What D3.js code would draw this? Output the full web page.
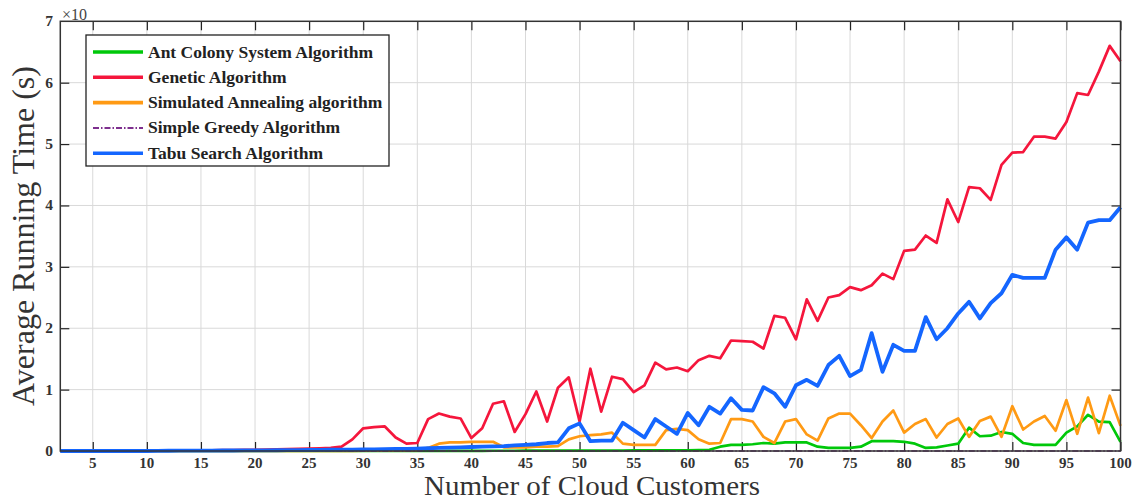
<!DOCTYPE html>
<html>
<head>
<meta charset="utf-8">
<script src="https://cdn.jsdelivr.net/npm/d3@7"></script>
<style>
  html, body { margin: 0; padding: 0; background: #fff; }
  svg { display: block; }
</style>
</head>
<body>
<svg id="chart" width="1134" height="501"></svg>
<script>
// Number of cloud customers on the x axis
const customers = d3.range(2, 101);

// Average running time per algorithm (in units of the axis multiplier)
const antColony = [
  0,0,0,0,0,0,0,0,0,0,
  0,0,0,0,0,0,0,0,0,0,
  0,0,0,0,0,0,0,0,0,0,
  0,0,0,0,0,0,0.003,0.003,0.003,0.003,
  0.004,0.004,0.004,0.005,0.005,0.005,0.006,0.006,0.006,0.007,
  0.007,0.008,0.008,0.009,0.01,0.01,0.01,0.012,0.012,0.015,
  0.02,0.07,0.10,0.10,0.11,0.13,0.12,0.14,0.14,0.14,
  0.07,0.05,0.05,0.05,0.07,0.16,0.16,0.16,0.15,0.12,
  0.05,0.06,0.09,0.12,0.38,0.24,0.25,0.31,0.28,0.13,
  0.10,0.10,0.10,0.30,0.40,0.59,0.48,0.47,0.15
];
const genetic = [
  0,0,0,0,0,0,0,0,0.005,0.005,
  0.005,0.008,0.01,0.01,0.012,0.015,0.015,0.018,0.02,0.022,
  0.025,0.03,0.035,0.04,0.045,0.05,0.07,0.19,0.37,0.39,
  0.40,0.22,0.12,0.13,0.52,0.61,0.56,0.53,0.21,0.37,
  0.77,0.81,0.31,0.60,0.97,0.48,1.03,1.20,0.48,1.34,
  0.64,1.21,1.17,0.96,1.07,1.44,1.33,1.36,1.30,1.48,
  1.55,1.51,1.80,1.79,1.78,1.67,2.20,2.17,1.82,2.47,
  2.12,2.50,2.54,2.67,2.62,2.70,2.89,2.80,3.26,3.28,
  3.51,3.39,4.10,3.73,4.30,4.28,4.09,4.66,4.86,4.87,
  5.12,5.12,5.09,5.36,5.83,5.80,6.18,6.60,6.35
];
const annealing = [
  0,0,0,0,0,0,0,0,0,0,
  0,0,0,0,0,0,0,0,0,0,
  0,0,0,0,0,0,0,0,0.005,0.005,
  0.005,0.01,0.01,0.015,0.05,0.12,0.14,0.14,0.15,0.15,
  0.15,0.06,0.06,0.06,0.07,0.07,0.08,0.19,0.24,0.26,
  0.27,0.30,0.12,0.10,0.10,0.10,0.34,0.36,0.34,0.19,
  0.12,0.13,0.52,0.52,0.48,0.23,0.13,0.48,0.52,0.27,
  0.17,0.53,0.61,0.61,0.42,0.21,0.48,0.66,0.30,0.44,
  0.52,0.22,0.44,0.53,0.23,0.49,0.56,0.23,0.73,0.35,
  0.48,0.57,0.33,0.83,0.28,0.87,0.29,0.90,0.41
];
const greedy = [
  0,0,0,0,0,0,0,0,0,0,
  0,0,0,0,0,0,0,0,0,0,
  0,0,0,0,0,0,0,0,0,0,
  0,0,0,0,0,0,0,0,0,0,
  0,0,0,0,0,0,0,0,0,0,
  0,0,0,0,0,0,0,0,0,0,
  0,0,0,0,0,0,0,0,0,0,
  0,0,0,0,0,0,0,0,0,0,
  0,0,0,0,0,0,0,0,0,0,
  0,0,0,0,0,0,0,0,0
];
const tabu = [
  0,0,0,0,0,0,0,0,0,0.003,
  0.004,0.005,0.005,0.006,0.007,0.008,0.008,0.009,0.01,0.011,
  0.012,0.013,0.015,0.016,0.018,0.02,0.022,0.024,0.026,0.028,
  0.03,0.033,0.036,0.04,0.045,0.05,0.055,0.06,0.065,0.07,
  0.075,0.08,0.09,0.10,0.11,0.13,0.14,0.37,0.45,0.16,
  0.17,0.17,0.46,0.34,0.22,0.52,0.40,0.28,0.62,0.42,
  0.72,0.61,0.86,0.67,0.66,1.04,0.94,0.72,1.07,1.16,
  1.06,1.40,1.55,1.22,1.32,1.92,1.29,1.73,1.63,1.63,
  2.18,1.82,2.00,2.24,2.43,2.16,2.41,2.57,2.87,2.82,
  2.82,2.82,3.28,3.48,3.28,3.72,3.76,3.76,3.97
];

const seriesNames = [
  "Ant Colony System Algorithm",
  "Genetic Algorithm",
  "Simulated Annealing algorithm",
  "Simple Greedy Algorithm",
  "Tabu Search Algorithm"
];
const xTicks = [5,10,15,20,25,30,35,40,45,50,55,60,65,70,75,80,85,90,95,100];
const yTicks = [0,1,2,3,4,5,6,7];

const series = [
  { name: seriesNames[0], values: antColony, color: "#00c80a", width: 2.7, dash: null },
  { name: seriesNames[1], values: genetic,   color: "#f5163c", width: 2.7, dash: null },
  { name: seriesNames[2], values: annealing, color: "#ff9a14", width: 2.7, dash: null },
  { name: seriesNames[3], values: greedy,    color: "#7e2f8e", width: 1.6, dash: "6,2,1.5,2" },
  { name: seriesNames[4], values: tabu,      color: "#1466ff", width: 3.8, dash: null }
];

const svg = d3.select("#chart");
const plotLeft = 60.3, plotRight = 1120.5, plotTop = 21.3, plotBottom = 451;
const serif = "'Liberation Serif', 'Times New Roman', serif";

const x = d3.scaleLinear().domain([2, 100]).range([plotLeft, plotRight]);
const y = d3.scaleLinear().domain([0, 7]).range([plotBottom, plotTop]);

// grid
const grid = svg.append("g").attr("stroke", "#d9d9d9").attr("stroke-width", 1);
grid.selectAll("line.gx").data(xTicks.filter(t => t < 100)).join("line")
  .attr("x1", d => x(d)).attr("x2", d => x(d))
  .attr("y1", plotTop).attr("y2", plotBottom);
grid.selectAll("line.gy").data(yTicks.filter(t => t > 0 && t < 7)).join("line")
  .attr("x1", plotLeft).attr("x2", plotRight)
  .attr("y1", d => y(d)).attr("y2", d => y(d));

// axes with inward ticks on all four sides
const tickLen = 9;
const axisStyle = g => {
  g.select(".domain").remove();
  g.selectAll(".tick line").attr("stroke", "#222").attr("stroke-width", 1.2);
};
const innerY = yTicks.filter(t => t > 0 && t < 7);
svg.append("g").attr("transform", `translate(0,${plotBottom})`)
  .call(d3.axisBottom(x).tickValues(xTicks).tickSize(-tickLen).tickFormat(""))
  .call(axisStyle);
svg.append("g").attr("transform", `translate(0,${plotTop})`)
  .call(d3.axisTop(x).tickValues(xTicks).tickSize(-tickLen).tickFormat(""))
  .call(axisStyle);
svg.append("g").attr("transform", `translate(${plotLeft},0)`)
  .call(d3.axisLeft(y).tickValues(innerY).tickSize(-tickLen).tickFormat(""))
  .call(axisStyle);
svg.append("g").attr("transform", `translate(${plotRight},0)`)
  .call(d3.axisRight(y).tickValues(innerY).tickSize(-tickLen).tickFormat(""))
  .call(axisStyle);

// tick labels
svg.append("g").selectAll("text").data(xTicks).join("text")
  .attr("x", d => x(d)).attr("y", 468)
  .attr("text-anchor", "middle")
  .attr("font-family", serif).attr("font-weight", "bold").attr("font-size", 15)
  .attr("fill", "#333")
  .text(d => d);
svg.append("g").selectAll("text").data(yTicks).join("text")
  .attr("x", 53).attr("y", d => y(d) + 5)
  .attr("text-anchor", "end")
  .attr("font-family", serif).attr("font-weight", "bold").attr("font-size", 15.5)
  .attr("fill", "#333")
  .text(d => d);

// axis multiplier
svg.append("text")
  .attr("x", 62).attr("y", 20)
  .attr("font-family", serif).attr("font-size", 16).attr("fill", "#444")
  .text("\u00d710");

// lines
const line = d3.line()
  .x((d, i) => x(customers[i]))
  .y(d => y(d));
svg.append("g").selectAll("path").data(series).join("path")
  .attr("d", s => line(s.values))
  .attr("fill", "none")
  .attr("stroke", s => s.color)
  .attr("stroke-width", s => s.width)
  .attr("stroke-dasharray", s => s.dash)
  .attr("stroke-linejoin", "round");

// frame
svg.append("rect")
  .attr("x", plotLeft).attr("y", plotTop)
  .attr("width", plotRight - plotLeft).attr("height", plotBottom - plotTop)
  .attr("fill", "none").attr("stroke", "#333").attr("stroke-width", 1.5);

// legend
const lg = svg.append("g");
lg.append("rect")
  .attr("x", 86).attr("y", 35).attr("width", 303).attr("height", 131)
  .attr("fill", "#fff").attr("stroke", "#222").attr("stroke-width", 1.3);
const rows = lg.selectAll("g.row").data(series).join("g")
  .attr("transform", (d, i) => `translate(0,${52 + i * 25.3})`);
rows.append("line")
  .attr("x1", 93).attr("x2", 143)
  .attr("stroke", d => d.color)
  .attr("stroke-width", d => d.width === 1.6 ? 2 : 3.6)
  .attr("stroke-dasharray", d => d.dash);
rows.append("text")
  .attr("x", 148).attr("y", 5.5)
  .attr("font-family", serif).attr("font-weight", "bold").attr("font-size", 17.5)
  .attr("fill", "#222")
  .text(d => d.name);

// axis titles
svg.append("text")
  .attr("x", 592).attr("y", 495)
  .attr("text-anchor", "middle")
  .attr("font-family", serif).attr("font-size", 26.5).attr("fill", "#333")
  .attr("textLength", 336).attr("lengthAdjust", "spacingAndGlyphs")
  .text("Number of Cloud Customers");
svg.append("text")
  .attr("transform", "translate(34,236) rotate(-90)")
  .attr("text-anchor", "middle")
  .attr("font-family", serif).attr("font-size", 32).attr("fill", "#333")
  .text("Average Running Time (s)");
</script>
</body>
</html>
